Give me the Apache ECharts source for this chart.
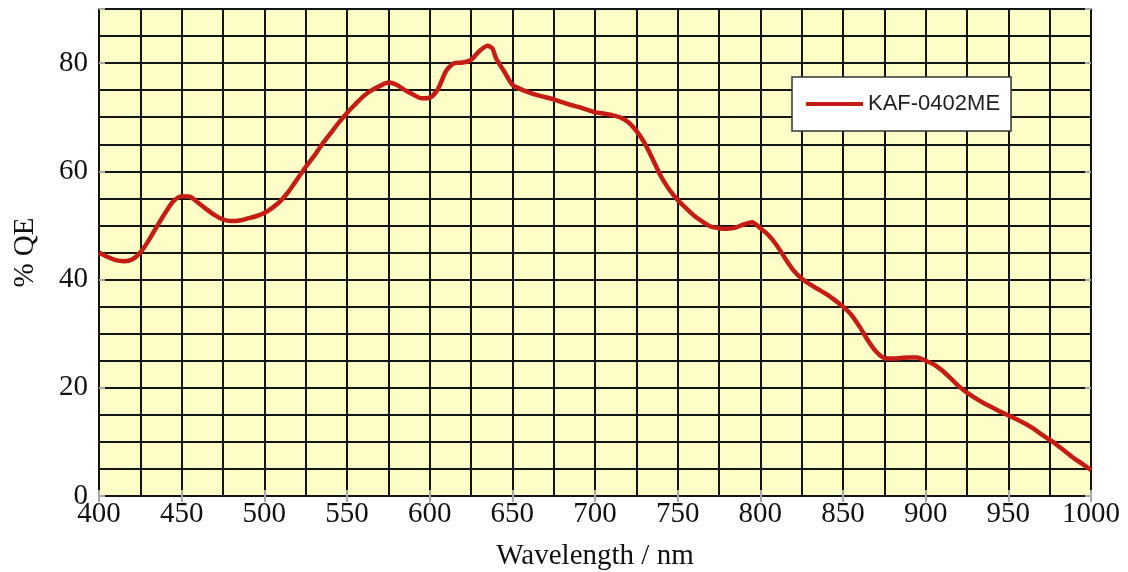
<!DOCTYPE html>
<html>
<head>
<meta charset="utf-8">
<script src="https://cdn.jsdelivr.net/npm/echarts@6/dist/echarts.min.js"></script>
<style>
  html, body { margin: 0; padding: 0; background: #ffffff; }
  #chart { width: 1128px; height: 572px; }
</style>
</head>
<body>
<div id="chart"></div>
<script>
// Quantum efficiency curve of the KAF-0402ME CCD sensor
const seriesName = 'KAF-0402ME';
const wavelengths = [
  400, 405, 410, 415, 420, 425, 430, 435, 440, 445,
  450, 455, 460, 465, 470, 475, 480, 485, 490, 495,
  500, 505, 510, 515, 520, 525, 530, 535, 540, 545,
  550, 555, 560, 565, 570, 575, 580, 585, 590, 595,
  600, 605, 610, 615, 620, 625, 630, 635, 638, 640,
  645, 650, 655, 660, 665, 670, 675, 680, 685, 690,
  695, 700, 705, 710, 715, 720, 725, 730, 735, 740,
  745, 750, 755, 760, 765, 770, 775, 780, 785, 790,
  795, 800, 805, 810, 815, 820, 825, 830, 835, 840,
  845, 850, 855, 860, 865, 870, 875, 880, 885, 890,
  895, 900, 905, 910, 915, 920, 925, 930, 935, 940,
  945, 950, 955, 960, 965, 970, 975, 980, 985, 990,
  995, 1000
];
const qe = [
  45.0, 44.2, 43.6, 43.4, 43.7, 45.0, 47.2, 49.8, 52.3, 54.5,
  55.4, 55.3, 54.2, 53.0, 51.9, 51.1, 50.8, 50.9, 51.3, 51.7,
  52.3, 53.3, 54.6, 56.4, 58.6, 60.8, 62.8, 65.0, 67.0, 69.0,
  70.8, 72.4, 73.9, 75.0, 75.8, 76.4, 76.0, 75.0, 74.2, 73.5,
  73.6, 75.2, 78.6, 80.0, 80.1, 80.6, 82.2, 83.2, 82.7, 81.0,
  78.5, 76.0, 75.2, 74.6, 74.1, 73.7, 73.3, 72.8, 72.3, 71.9,
  71.4, 70.9, 70.7, 70.4, 70.0, 69.1, 67.5, 65.2, 62.2, 59.0,
  56.6, 54.7, 53.2, 51.8, 50.7, 49.8, 49.5, 49.4, 49.6, 50.2,
  50.6, 49.5, 48.2, 46.3, 43.9, 41.7, 40.2, 39.1, 38.2, 37.3,
  36.2, 35.0, 33.5, 31.3, 28.8, 26.7, 25.5, 25.4, 25.5, 25.6,
  25.6, 25.0, 24.3, 23.2, 21.8, 20.3, 19.1, 18.1, 17.2, 16.4,
  15.6, 14.9, 14.2, 13.4, 12.5, 11.4, 10.4, 9.3, 8.1, 6.9,
  5.9, 4.8
];

const serif = '"Liberation Serif", "DejaVu Serif", serif';
const curveColor = '#c51d14';
const gridLine = { show: true, lineStyle: { color: '#141414', width: 2 } };
const tickOnly = {
  axisLine: { show: false },
  axisLabel: { show: false },
  splitLine: { show: false },
  axisTick: { show: true, inside: true, length: 6, lineStyle: { color: '#a8a8a8', width: 2 } }
};

const chart = echarts.init(document.getElementById('chart'));
chart.setOption({
  backgroundColor: '#ffffff',
  animation: false,
  grid: {
    left: 99, right: 37, top: 9, bottom: 76,
    outerBoundsMode: 'none',
    containLabel: false,
    show: true,
    backgroundColor: '#fdfdc8',
    borderColor: '#3a3a3a',
    borderWidth: 1.5
  },
  legend: {
    left: 792, top: 77,
    data: [{ name: seriesName, icon: 'rect', itemStyle: { color: curveColor } }],
    backgroundColor: '#ffffff',
    borderColor: '#333333',
    borderWidth: 1.5,
    borderRadius: 0,
    padding: [16, 11, 16, 14],
    itemWidth: 57,
    itemHeight: 4,
    textStyle: { fontFamily: '"Liberation Sans", Arial, sans-serif', fontSize: 22, color: '#1e1e1e', lineHeight: 22 }
  },
  xAxis: [
    {
      type: 'value', min: 400, max: 1000, interval: 25, position: 'bottom',
      axisLine: { show: false },
      axisTick: { show: false },
      splitLine: gridLine,
      axisLabel: {
        formatter: v => (v % 50 === 0 ? String(v) : ''),
        fontFamily: serif, fontSize: 29, color: '#111111', margin: 4
      },
      name: 'Wavelength / nm',
      nameLocation: 'middle',
      nameGap: 46,
      nameTextStyle: { fontFamily: serif, fontSize: 29, color: '#111111' }
    },
    Object.assign({ type: 'value', min: 400, max: 1000, interval: 50, position: 'bottom' }, tickOnly),
    Object.assign({ type: 'value', min: 400, max: 1000, interval: 50, position: 'top' }, tickOnly)
  ],
  yAxis: [
    {
      type: 'value', min: 0, max: 90, interval: 5, position: 'left',
      axisLine: { show: false },
      axisTick: { show: false },
      splitLine: gridLine,
      axisLabel: {
        formatter: v => (v % 20 === 0 ? String(v) : ''),
        fontFamily: serif, fontSize: 29, color: '#111111', margin: 11
      },
      name: '% QE',
      nameLocation: 'middle',
      nameGap: 59,
      nameTextStyle: { fontFamily: serif, fontSize: 29, color: '#111111' }
    },
    Object.assign({ type: 'value', min: 0, max: 90, interval: 20, position: 'left' }, tickOnly),
    Object.assign({ type: 'value', min: 0, max: 90, interval: 20, position: 'right' }, tickOnly)
  ],
  series: [
    {
      name: seriesName,
      type: 'line',
      xAxisIndex: 0,
      yAxisIndex: 0,
      data: wavelengths.map((w, i) => [w, qe[i]]),
      showSymbol: false,
      symbol: 'none',
      smooth: 0.25,
      lineStyle: { color: curveColor, width: 4.5 },
      itemStyle: { color: curveColor },
      z: 5
    }
  ]
});
</script>
</body>
</html>
